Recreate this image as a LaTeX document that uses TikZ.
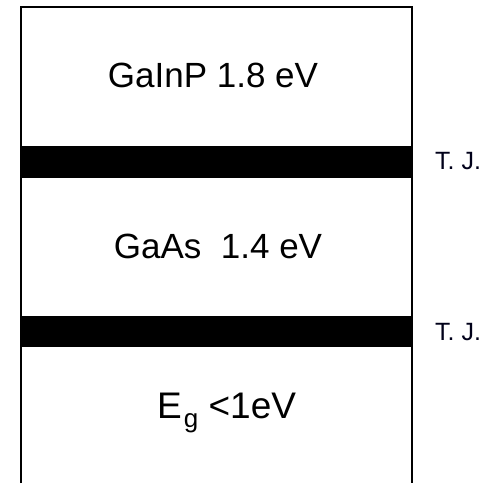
\documentclass[tikz,border=0pt]{standalone}
\usepackage{fontspec}
\setmainfont{Liberation Sans}
\begin{document}
\begin{tikzpicture}[x=1pt,y=-1pt,
  lbl/.style={font=\fontsize{35}{40}\selectfont, inner sep=0pt},
  biglbl/.style={font=\fontsize{37}{42}\selectfont, inner sep=0pt},
  tjlbl/.style={font=\fontsize{25}{28}\selectfont, inner sep=0pt, text=black!90!blue},
  tjbar/.style={fill=black},
  frame/.style={draw=black, line width=1.5pt}]
\useasboundingbox (0,0) rectangle (485,483);
\coordinate (bl) at (21,483);
\coordinate (tl) at (21,7);
\coordinate (tr) at (412,7);
\coordinate (br) at (412,483);
\draw[frame] (bl) -- (tl) -- (tr) -- (br);
\path[tjbar] (21,146) rectangle (412,178);
\path[tjbar] (21,316) rectangle (412,347);
\node[lbl, anchor=base] (top) at (213,87) {GaInP 1.8 eV};
\node[lbl, anchor=base] (mid) at (218,258) {GaAs\ \ 1.4 eV};
\node[biglbl, anchor=base west] (bot) at (157,418) {E\kern2pt\raisebox{-9.5pt}{\fontsize{26}{28}\selectfont g} <1eV};
\node[tjlbl, anchor=base west] (tj1) at (435,169) {T. J.};
\node[tjlbl, anchor=base west] (tj2) at (435,340) {T. J.};
\end{tikzpicture}
\end{document}
